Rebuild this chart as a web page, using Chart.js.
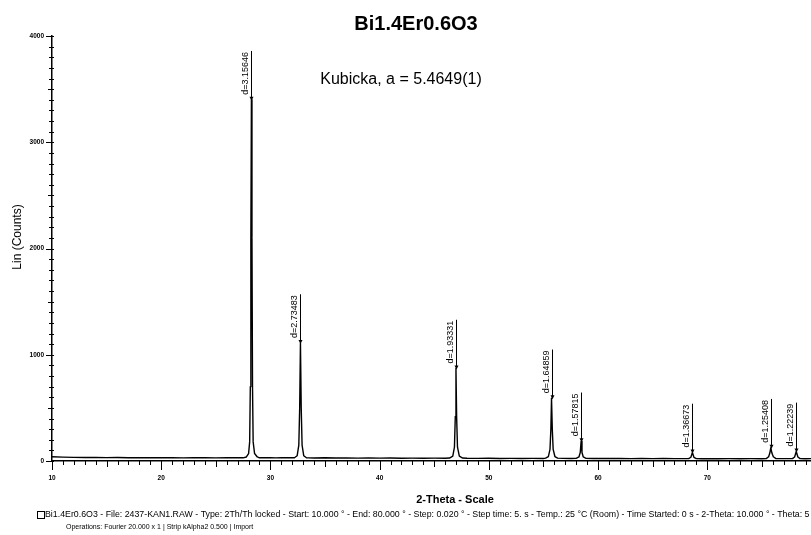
<!DOCTYPE html>
<html>
<head>
<meta charset="utf-8">
<script src="https://cdn.jsdelivr.net/npm/chart.js@4.4.1/dist/chart.umd.min.js"></script>
<style>
  html, body { margin: 0; padding: 0; background: #fff; }
  canvas { display: block; }
</style>
</head>
<body>
<canvas id="xrd" width="811" height="535"></canvas>
<script>
// 2-theta (deg) and intensity (counts)
const twoTheta = [
  10, 11, 12, 13, 14, 15, 16, 17, 18, 19, 20, 21, 22, 23, 24, 25, 26, 27,
  27.5, 27.8, 28.0, 28.1, 28.16, 28.21, 28.26, 28.31, 28.36, 28.42, 28.55, 28.8, 29.0,
  29.5, 30, 30.5, 31, 31.5, 32,
  32.2, 32.45, 32.6, 32.68, 32.75, 32.82, 32.9, 33.05, 33.3,
  33.5, 34, 35, 36, 37, 38, 39, 40, 41, 42, 43, 44, 45, 46,
  46.4, 46.7, 46.85, 46.93, 46.99, 47.05, 47.13, 47.3, 47.6,
  48, 49, 50, 51, 52, 53, 54, 55,
  55.2, 55.45, 55.6, 55.68, 55.74, 55.81, 55.89, 56.05, 56.3,
  56.8, 57.5,
  58.0, 58.25, 58.37, 58.45, 58.53, 58.65, 58.9,
  59.5, 60, 61, 62, 63, 64, 65, 66, 67, 68,
  68.3, 68.5, 68.64, 68.78, 69.0,
  69.5, 70, 71, 72, 73, 74, 75,
  75.4, 75.62, 75.73, 75.82, 75.92, 76.05, 76.3,
  77, 77.8, 78.0, 78.15, 78.3, 78.5,
  79, 79.5
];
const counts = [
  40, 36, 34, 33, 34, 32, 33, 31, 30, 31, 32, 30, 29, 31, 30, 29, 30, 31,
  30, 38, 70, 180, 700, 2100, 3400, 2100, 700, 180, 70, 38, 30,
  31, 30, 29, 31, 30, 31,
  30, 50, 150, 500, 1110, 500, 150, 50, 30,
  29, 28, 30, 28, 29, 27, 28, 27, 28, 26, 27, 26, 27, 26,
  28, 45, 130, 420, 870, 420, 130, 45, 28,
  26, 25, 26, 24, 25, 24, 25, 24,
  27, 42, 110, 300, 590, 300, 110, 42, 27,
  25, 24,
  25, 38, 80, 185, 80, 38, 25,
  24, 25, 23, 24, 22, 23, 22, 23, 22, 22,
  22, 35, 80, 35, 22,
  21, 22, 21, 22, 21, 22, 21,
  22, 40, 75, 125, 75, 40, 22,
  22, 22, 38, 90, 38, 22,
  21, 22
];

// marked reflections with their d-spacings
const peakTheta = [28.26, 32.75, 46.99, 55.74, 58.45, 68.64, 75.82, 78.15];
const peakCounts = [3400, 1110, 870, 590, 185, 80, 125, 90];
const peakLabels = ['d=3.15646', 'd=2.73483', 'd=1.93331', 'd=1.64859',
                    'd=1.57815', 'd=1.36673', 'd=1.25408', 'd=1.22239'];

const points = twoTheta.map((t, i) => ({x: t, y: counts[i]}));

const decor = {
  id: 'decor',
  afterDraw(chart) {
    const {ctx, chartArea: a, scales: {x, y}} = chart;
    ctx.save();
    ctx.strokeStyle = '#000';
    ctx.fillStyle = '#000';
    ctx.lineWidth = 1;

    // minor / major ticks on the 2-theta axis
    ctx.beginPath();
    for (let t = 10; t <= 79; t++) {
      const px = Math.round(x.getPixelForValue(t)) + 0.5;
      const len = t % 10 === 0 ? 9 : (t % 5 === 0 ? 6 : 4);
      ctx.moveTo(px, a.bottom);
      ctx.lineTo(px, a.bottom + len);
    }
    // ticks on the counts axis
    for (let c = 0; c <= 4000; c += 100) {
      const py = Math.round(y.getPixelForValue(c)) + 0.5;
      const len = c % 1000 === 0 ? 6 : (c % 500 === 0 ? 4 : 3);
      ctx.moveTo(a.left - len, py);
      ctx.lineTo(a.left + 2, py);
    }
    ctx.stroke();

    // peak markers, sticks and d-spacing labels
    ctx.font = '9px "Liberation Sans", Arial, sans-serif';
    peakTheta.forEach((t, i) => {
      const px = Math.round(x.getPixelForValue(t)) + 0.5;
      const py = y.getPixelForValue(peakCounts[i]);
      const w = ctx.measureText(peakLabels[i]).width;
      ctx.beginPath();
      ctx.moveTo(px, py);
      ctx.lineTo(px, py - w - 6);
      ctx.stroke();
      ctx.beginPath();
      ctx.moveTo(px - 2, py - 3);
      ctx.lineTo(px + 2, py - 3);
      ctx.lineTo(px, py + 1);
      ctx.closePath();
      ctx.fill();
      ctx.save();
      ctx.translate(px - 1.5, py - 5);
      ctx.rotate(-Math.PI / 2);
      ctx.textAlign = 'left';
      ctx.textBaseline = 'bottom';
      ctx.fillText(peakLabels[i], 0, 0);
      ctx.restore();
    });

    // titles and captions
    ctx.textAlign = 'center';
    ctx.textBaseline = 'middle';
    ctx.font = 'bold 20px "Liberation Sans", Arial, sans-serif';
    ctx.fillText('Bi1.4Er0.6O3', 416, 24);
    ctx.font = '16px "Liberation Sans", Arial, sans-serif';
    ctx.fillText('Kubicka, a = 5.4649(1)', 401, 80);
    ctx.font = 'bold 11px "Liberation Sans", Arial, sans-serif';
    ctx.fillText('2-Theta - Scale', 455, 500);
    ctx.save();
    ctx.translate(18, 237);
    ctx.rotate(-Math.PI / 2);
    ctx.font = '12px "Liberation Sans", Arial, sans-serif';
    ctx.fillText('Lin (Counts)', 0, 0);
    ctx.restore();

    ctx.textAlign = 'left';
    ctx.strokeRect(37.5, 511.5, 7, 7);
    ctx.font = '8.8px "Liberation Sans", Arial, sans-serif';
    ctx.fillText('Bi1.4Er0.6O3 - File: 2437-KAN1.RAW - Type: 2Th/Th locked - Start: 10.000 ° - End: 80.000 ° - Step: 0.020 ° - Step time: 5. s - Temp.: 25 °C (Room) - Time Started: 0 s - 2-Theta: 10.000 ° - Theta: 5', 45, 515);
    ctx.font = '7px "Liberation Sans", Arial, sans-serif';
    ctx.fillText('Operations: Fourier 20.000 x 1 | Strip kAlpha2 0.500 | Import', 66, 527);
    ctx.restore();
  }
};

new Chart(document.getElementById('xrd').getContext('2d'), {
  type: 'line',
  data: {
    datasets: [{
      data: points,
      borderColor: '#000',
      borderWidth: 1.4,
      borderJoinStyle: 'round',
      pointRadius: 0,
      tension: 0
    }]
  },
  options: {
    responsive: false,
    animation: false,
    devicePixelRatio: 1,
    layout: { padding: { top: 36, right: 0, left: 0, bottom: 0 } },
    scales: {
      x: {
        type: 'linear',
        min: 10,
        max: 79.5,
        afterFit(s) { s.height = 74; s.paddingLeft = 0; s.paddingRight = 0; },
        grid: { display: false, drawTicks: false },
        border: { display: true, color: '#000', width: 1.5 },
        ticks: {
          stepSize: 10,
          padding: 13,
          color: '#000',
          font: { size: 6.5, weight: 'bold', family: '"Liberation Sans", Arial' },
          maxRotation: 0,
          callback: v => (v % 10 === 0 ? String(v) : '')
        }
      },
      y: {
        min: 0,
        max: 4000,
        afterFit(s) { s.width = 52; s.paddingTop = 0; s.paddingBottom = 0; },
        grid: { display: false, drawTicks: false },
        border: { display: true, color: '#000', width: 1.5 },
        ticks: {
          stepSize: 1000,
          padding: 8,
          color: '#000',
          font: { size: 6.5, weight: 'bold', family: '"Liberation Sans", Arial' },
          callback: v => String(v)
        }
      }
    },
    plugins: {
      legend: { display: false },
      tooltip: { enabled: false }
    }
  },
  plugins: [decor]
});
</script>
</body>
</html>
